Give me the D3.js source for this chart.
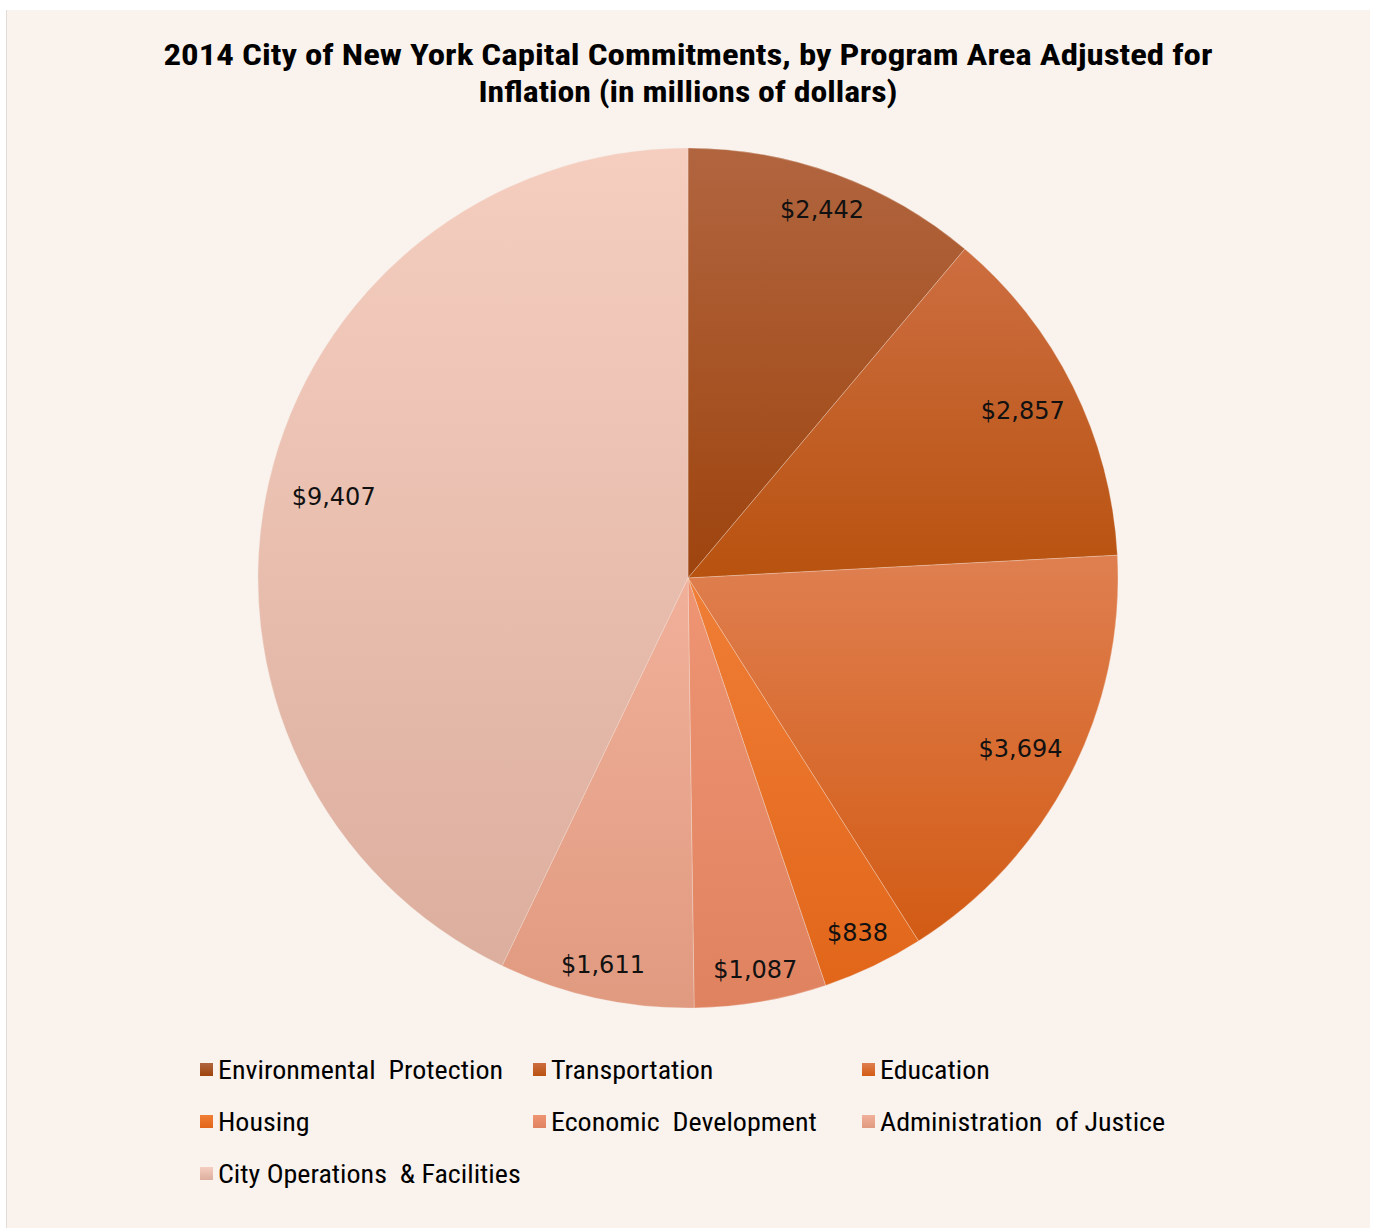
<!DOCTYPE html>
<html>
<head>
<meta charset="utf-8">
<script src="https://cdn.jsdelivr.net/npm/d3@7"></script>
<style>
  html, body { margin: 0; padding: 0; background: #ffffff; }
  svg { display: block; }
</style>
</head>
<body>
<svg id="chart" width="1373" height="1228"></svg>
<script>
// data (millions of dollars)
const programs = ["Environmental Protection", "Transportation", "Education", "Housing",
                  "Economic Development", "Administration of Justice", "City Operations & Facilities"];
const commitments = [2442, 2857, 3694, 838, 1087, 1611, 9407];
const legendNames = ["Environmental  Protection", "Transportation", "Education", "Housing",
                     "Economic  Development", "Administration  of Justice", "City Operations  & Facilities"];
const topColors    = ["#b1653f", "#cd6e41", "#df7f50", "#f07e36", "#ef9573", "#f1b09a", "#f5cec0"];
const bottomColors = ["#9e440e", "#b8520f", "#d25b14", "#e1661a", "#df8260", "#e09a80", "#dcae9e"];
const titleLines = ["2014 City of New York Capital Commitments, by Program Area Adjusted for",
                    "Inflation (in millions of dollars)"];

const W = 1373, H = 1228;
const svg = d3.select("#chart");
const cx = 688, cy = 578, radius = 430;

//panel background
svg.append("rect").attr("x", 6).attr("y", 10).attr("width", 1364).attr("height", H - 10)
    .attr("fill", "#f9f2ed");
svg.append("line").attr("x1", 6.5).attr("x2", 6.5).attr("y1", 10).attr("y2", H)
    .attr("stroke", "#e2dcd8").attr("stroke-width", 1);

//gradients, one per slice
const defs = svg.append("defs");
programs.forEach((p, i) => {
    let g = defs.append("linearGradient").attr("id", "grad" + i)
        .attr("x1", 0).attr("y1", 0).attr("x2", 0).attr("y2", 1);
    g.append("stop").attr("offset", "0%").attr("stop-color", topColors[i]);
    g.append("stop").attr("offset", "100%").attr("stop-color", bottomColors[i]);
});

//title (condensed font, stretched to the width seen in the picture)
const titleFont = "'Liberation Sans Narrow', 'Arial Narrow', 'Roboto Condensed', sans-serif";
const titleWidths = [1049, 419];
svg.selectAll(".title").data(titleLines).enter().append("text")
    .attr("class", "title")
    .attr("x", 688)
    .attr("y", (d, i) => 65 + i * 37)
    .attr("text-anchor", "middle")
    .attr("font-family", titleFont)
    .attr("font-weight", "bold")
    .attr("font-size", 30)
    .attr("fill", "#000")
    .attr("textLength", (d, i) => titleWidths[i])
    .attr("lengthAdjust", "spacingAndGlyphs")
    .text(d => d);

//pie
const pie = d3.pie().sort(null).value(d => d)(commitments);
const arc = d3.arc().innerRadius(0).outerRadius(radius);

const pg = svg.append("g").attr("transform", "translate(" + cx + "," + cy + ")");

pg.selectAll("path.slice").data(pie).enter().append("path")
    .attr("class", "slice")
    .attr("d", arc)
    .attr("fill", (d, i) => "url(#grad" + i + ")")
    .attr("stroke", "#f4e6df")
    .attr("stroke-width", 0.6)
    .attr("stroke-opacity", 0.5);

//labels at inside end
const fmt = d3.format(",");
const labels = pg.selectAll("text.lbl").data(pie).enter().append("text")
    .attr("class", "lbl")
    .attr("text-anchor", "middle")
    .attr("dominant-baseline", "central")
    .attr("font-family", "'DejaVu Sans', sans-serif")
    .attr("font-size", 24)
    .attr("fill", "#111")
    .text(d => "$" + fmt(d.value));

labels.each(function(d) {
    let a = (d.startAngle + d.endAngle) / 2;
    let w = this.getComputedTextLength();
    let h = 24;
    let ext = Math.abs(Math.sin(a)) * w / 2 + Math.abs(Math.cos(a)) * h / 2;
    let rr = radius - 13 - ext + (Math.abs(Math.sin(a)) > 0.9 ? -10 : 0);
    d3.select(this)
        .attr("x", Math.sin(a) * rr)
        .attr("y", -Math.cos(a) * rr);
});

//legend
const legendCols = [200, 533, 862];
const legendRows = [1070, 1122, 1174];
const lg = svg.selectAll("g.legend").data(programs).enter().append("g")
    .attr("class", "legend")
    .attr("transform", (d, i) => "translate(" + legendCols[i % 3] + "," + legendRows[Math.floor(i / 3)] + ")");

lg.append("rect")
    .attr("x", 0).attr("y", -7)
    .attr("width", 13).attr("height", 13)
    .attr("fill", (d, i) => "url(#grad" + i + ")");

lg.append("text")
    .attr("x", 18)
    .attr("y", 0)
    .attr("dominant-baseline", "central")
    .attr("font-family", titleFont)
    .attr("font-size", 25)
    .attr("fill", "#000")
    .style("white-space", "pre")
    .text((d, i) => legendNames[i])
    .each(function() {
        // widen the condensed face a bit, the original face is less narrow
        let len = this.getComputedTextLength();
        d3.select(this).attr("textLength", len * 1.12).attr("lengthAdjust", "spacingAndGlyphs");
    });
</script>
</body>
</html>
